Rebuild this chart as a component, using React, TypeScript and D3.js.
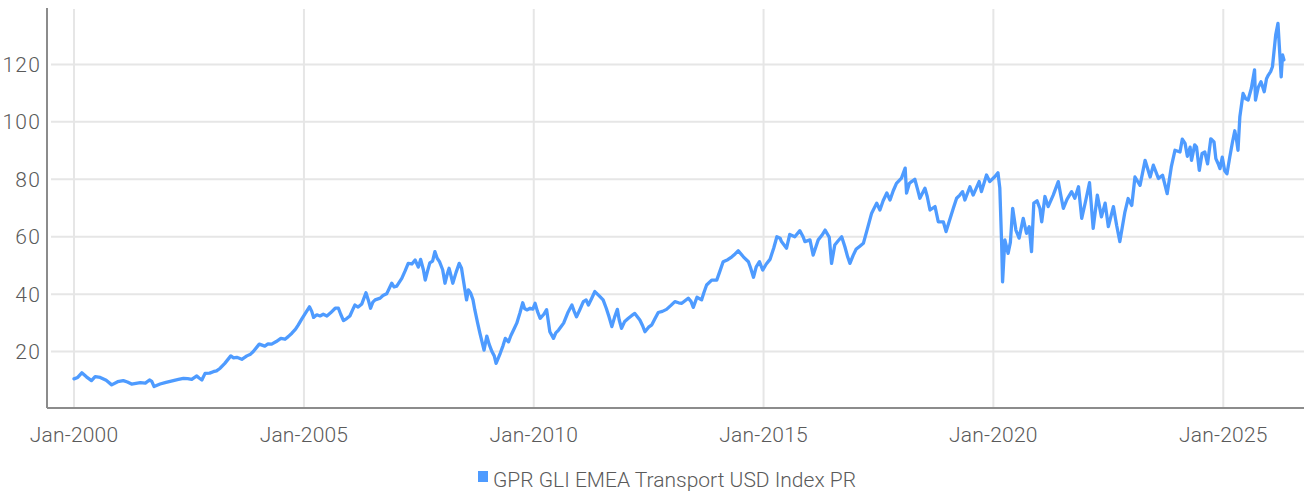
import React from "react";
import * as d3 from "d3";

// decimal year -> index level
const years = [
  2000.0, 2000.08, 2000.17, 2000.27, 2000.38, 2000.46, 2000.57, 2000.7, 2000.82, 2000.95,
  2001.07, 2001.16, 2001.25, 2001.44, 2001.55, 2001.64, 2001.69, 2001.74, 2001.87, 2002.0,
  2002.16, 2002.27, 2002.38, 2002.47, 2002.56, 2002.67, 2002.72, 2002.78, 2002.85, 2002.95,
  2003.03, 2003.1, 2003.18, 2003.28, 2003.41, 2003.47, 2003.54, 2003.65, 2003.76, 2003.84,
  2003.9, 2004.03, 2004.15, 2004.22, 2004.3, 2004.4, 2004.5, 2004.59, 2004.66, 2004.74,
  2004.82, 2004.88, 2004.96, 2005.03, 2005.12, 2005.17, 2005.21, 2005.28, 2005.35, 2005.42,
  2005.5, 2005.58, 2005.68, 2005.75, 2005.8, 2005.86, 2005.93, 2006.0, 2006.06, 2006.11,
  2006.18, 2006.26, 2006.35, 2006.4, 2006.45, 2006.5, 2006.55, 2006.66, 2006.72, 2006.8,
  2006.91, 2006.96, 2007.02, 2007.13, 2007.2, 2007.27, 2007.35, 2007.42, 2007.49, 2007.54,
  2007.6, 2007.64, 2007.69, 2007.74, 2007.8, 2007.85, 2007.9, 2007.95, 2008.02, 2008.07,
  2008.12, 2008.16, 2008.2, 2008.24, 2008.31, 2008.38, 2008.43, 2008.47, 2008.54, 2008.58,
  2008.63, 2008.68, 2008.72, 2008.78, 2008.83, 2008.92, 2008.98, 2009.03, 2009.09, 2009.14,
  2009.18, 2009.23, 2009.27, 2009.33, 2009.38, 2009.45, 2009.5, 2009.56, 2009.63, 2009.7,
  2009.76, 2009.8, 2009.85, 2009.92, 2009.98, 2010.03, 2010.08, 2010.14, 2010.22, 2010.28,
  2010.35, 2010.43, 2010.48, 2010.54, 2010.6, 2010.65, 2010.74, 2010.83, 2010.88, 2010.93,
  2011.0, 2011.08, 2011.14, 2011.19, 2011.26, 2011.33, 2011.42, 2011.51, 2011.58, 2011.64,
  2011.7, 2011.76, 2011.82, 2011.86, 2011.91, 2011.98, 2012.06, 2012.13, 2012.2, 2012.31,
  2012.37, 2012.42, 2012.5, 2012.57, 2012.64, 2012.71, 2012.8, 2012.89, 2012.98, 2013.07,
  2013.15, 2013.22, 2013.36, 2013.42, 2013.47, 2013.55, 2013.65, 2013.7, 2013.76, 2013.87,
  2013.98, 2014.05, 2014.12, 2014.22, 2014.31, 2014.38, 2014.45, 2014.56, 2014.67, 2014.72,
  2014.78, 2014.84, 2014.91, 2014.98, 2015.06, 2015.14, 2015.22, 2015.29, 2015.36, 2015.39,
  2015.5, 2015.57, 2015.68, 2015.79, 2015.86, 2015.9, 2016.01, 2016.08, 2016.14, 2016.19,
  2016.27, 2016.34, 2016.43, 2016.48, 2016.55, 2016.62, 2016.7, 2016.77, 2016.83, 2016.88,
  2016.95, 2017.01, 2017.1, 2017.17, 2017.26, 2017.35, 2017.46, 2017.53, 2017.6, 2017.68,
  2017.75, 2017.82, 2017.89, 2018.0, 2018.08, 2018.11, 2018.17, 2018.22, 2018.29, 2018.35,
  2018.4, 2018.51, 2018.56, 2018.62, 2018.73, 2018.8, 2018.91, 2018.97, 2019.06, 2019.13,
  2019.2, 2019.27, 2019.33, 2019.38, 2019.49, 2019.56, 2019.63, 2019.69, 2019.74, 2019.85,
  2019.92, 2020.03, 2020.1, 2020.14, 2020.18, 2020.2, 2020.25, 2020.32, 2020.37, 2020.42,
  2020.49, 2020.56, 2020.65, 2020.72, 2020.78, 2020.83, 2020.88, 2020.95, 2021.01, 2021.05,
  2021.12, 2021.19, 2021.3, 2021.41, 2021.47, 2021.52, 2021.6, 2021.7, 2021.77, 2021.85,
  2021.92, 2022.0, 2022.09, 2022.17, 2022.26, 2022.35, 2022.43, 2022.5, 2022.61, 2022.68,
  2022.75, 2022.86, 2022.93, 2023.01, 2023.08, 2023.19, 2023.3, 2023.41, 2023.48, 2023.59,
  2023.68, 2023.78, 2023.87, 2023.95, 2024.06, 2024.11, 2024.17, 2024.22, 2024.28, 2024.31,
  2024.38, 2024.42, 2024.48, 2024.54, 2024.6, 2024.66, 2024.73, 2024.8, 2024.84, 2024.89,
  2024.93, 2024.98, 2025.03, 2025.08, 2025.14, 2025.2, 2025.25, 2025.29, 2025.32, 2025.36,
  2025.43, 2025.49, 2025.54, 2025.61, 2025.68, 2025.7, 2025.76, 2025.82, 2025.89, 2025.94,
  2025.98, 2026.03, 2026.07, 2026.14, 2026.19, 2026.22, 2026.26, 2026.29, 2026.32,
];

const levels = [
  10.5, 11.0, 12.6, 11.2, 9.9, 11.3, 11.0, 10.0, 8.4, 9.5,
  9.9, 9.4, 8.7, 9.2, 9.0, 10.1, 9.6, 7.8, 8.7, 9.3,
  9.9, 10.3, 10.7, 10.6, 10.3, 11.5, 10.8, 10.1, 12.4, 12.5,
  13.0, 13.3, 14.2, 15.9, 18.5, 17.8, 18.0, 17.3, 18.5, 19.1,
  20.0, 22.6, 21.9, 22.7, 22.6, 23.5, 24.6, 24.3, 25.2, 26.4,
  27.8, 29.3, 31.5, 33.3, 35.6, 34.0, 31.9, 32.8, 32.4, 33.0,
  32.4, 33.5, 35.1, 35.1, 33.0, 30.8, 31.5, 32.4, 34.5, 36.2,
  35.5, 36.6, 40.5, 38.0, 35.1, 37.2, 38.0, 38.6, 39.5, 40.1,
  43.8, 42.5, 42.8, 45.5, 48.0, 50.7, 50.5, 51.9, 49.4, 52.1,
  48.5, 44.9, 48.0, 50.9, 51.5, 54.8, 52.5, 51.3, 48.5, 43.8,
  47.0, 49.0, 46.5, 43.8, 47.5, 50.7, 49.0, 44.9, 38.0, 41.5,
  40.3, 38.0, 34.5, 30.0, 26.4, 20.5, 25.4, 22.5, 20.0, 18.5,
  15.9, 17.8, 19.4, 22.0, 24.6, 23.4, 25.5, 27.5, 29.9, 33.5,
  37.0, 35.0, 34.5, 35.1, 34.8, 36.8, 34.0, 31.6, 33.0, 34.6,
  26.9, 24.6, 26.5, 27.5, 28.8, 29.9, 33.5, 36.2, 34.0, 32.1,
  34.5, 37.4, 38.0, 36.2, 38.5, 40.9, 39.5, 38.0, 35.0, 32.0,
  28.7, 32.0, 34.7, 31.0, 28.1, 30.5, 31.6, 32.5, 33.3, 31.0,
  29.0, 26.9, 28.5, 29.3, 31.5, 33.6, 34.0, 34.7, 36.0, 37.4,
  37.0, 36.8, 38.6, 37.5, 35.4, 38.9, 38.0, 40.5, 43.2, 44.9,
  44.9, 48.0, 51.3, 52.0, 53.0, 54.0, 55.1, 53.0, 51.3, 49.0,
  45.9, 49.5, 51.3, 48.4, 50.5, 52.1, 56.0, 60.0, 59.5, 58.3,
  56.0, 60.8, 60.0, 62.1, 60.0, 58.3, 58.9, 53.6, 56.5, 58.9,
  60.5, 62.3, 59.8, 50.7, 57.1, 58.5, 60.0, 56.5, 53.0, 50.7,
  53.5, 55.6, 56.8, 57.7, 62.9, 68.2, 71.7, 69.3, 72.5, 75.2,
  72.8, 76.0, 78.6, 80.4, 83.9, 75.2, 78.5, 79.2, 80.0, 76.5,
  73.4, 76.9, 74.0, 69.3, 70.5, 65.2, 65.2, 61.8, 66.4, 70.0,
  73.4, 74.5, 75.7, 72.8, 77.4, 74.5, 77.0, 79.2, 75.7, 81.5,
  79.2, 80.9, 82.3, 77.0, 57.7, 44.3, 58.9, 54.2, 58.0, 69.9,
  62.3, 59.5, 66.4, 61.2, 63.5, 54.8, 71.7, 72.5, 69.9, 65.2,
  74.0, 70.5, 74.5, 79.2, 74.0, 69.9, 73.0, 75.7, 73.4, 77.4,
  66.4, 72.0, 78.8, 62.9, 74.5, 66.9, 71.7, 63.5, 70.5, 64.0,
  58.3, 68.6, 73.3, 70.9, 80.8, 77.9, 86.6, 80.8, 84.9, 80.3,
  81.4, 75.0, 84.3, 90.1, 89.5, 94.0, 92.5, 88.0, 91.2, 86.6,
  92.0, 91.2, 83.1, 89.0, 89.5, 85.4, 94.1, 93.0, 87.2, 85.4,
  83.7, 87.7, 83.0, 81.9, 87.7, 93.0, 96.9, 93.5, 90.1, 101.8,
  109.9, 108.0, 107.6, 111.7, 118.1, 107.6, 112.0, 114.0, 110.5, 115.0,
  116.3, 117.5, 119.2, 130.2, 134.3, 126.2, 115.7, 123.3, 121.6,
];

const yTicks = [20, 40, 60, 80, 100, 120];
const xTickYears = [2000, 2005, 2010, 2015, 2020, 2025];
const seriesName = "GPR GLI EMEA Transport USD Index PR";

const W = 1304;
const H = 493;
const FONT = "Roboto, 'Liberation Sans', sans-serif";
const LINE = "#4e9bff";
const GRID = "#e6e6e6";
const AXIS = "#8c8c8c";
const TEXT = "#5a5a5a";

const toDate = (t: number) => {
  const y = Math.floor(t);
  return new Date(new Date(y, 0, 1).getTime() + (t - y) * 365.25 * 86400000);
};

export default function App() {
  const left = 47;
  const bottom = 407;
  const top = 8;

  const x = d3
    .scaleTime()
    .domain([new Date(2000, 0, 1), new Date(2025, 0, 1)])
    .range([74, 1223.3]);
  const y = d3.scaleLinear().domain([0, 140]).range([409, 7]);

  const data = years.map((t, i) => ({ date: toDate(t), v: levels[i] }));
  const line = d3
    .line<{ date: Date; v: number }>()
    .x((d) => x(d.date))
    .y((d) => y(d.v));

  const fmt = d3.timeFormat("%b-%Y");

  return (
    <svg
      width={W}
      height={H}
      style={{ position: "absolute", left: 0, top: 0, background: "#fff" }}
      fontFamily={FONT}
      fontWeight={300}
    >
      {/* grid */}
      {yTicks.map((t) => (
        <line key={"h" + t} x1={51} x2={W} y1={y(t)} y2={y(t)} stroke={GRID} strokeWidth={2} />
      ))}
      {xTickYears.map((yr) => (
        <line
          key={"v" + yr}
          x1={x(new Date(yr, 0, 1))}
          x2={x(new Date(yr, 0, 1))}
          y1={top + 1}
          y2={bottom}
          stroke={GRID}
          strokeWidth={2}
        />
      ))}

      {/* series */}
      <path
        d={line(data) || ""}
        fill="none"
        stroke={LINE}
        strokeWidth={3.3}
        strokeLinejoin="round"
        strokeLinecap="round"
      />

      {/* axes */}
      <line x1={left} x2={left} y1={top} y2={bottom + 1} stroke={AXIS} strokeWidth={2} />
      <line x1={left} x2={W} y1={bottom + 1} y2={bottom + 1} stroke={AXIS} strokeWidth={2} />

      {yTicks.map((t) => (
        <text
          key={"yl" + t}
          x={41}
          y={y(t)}
          dy="0.36em"
          textAnchor="end"
          fontSize={21}
          letterSpacing={1.2}
          fill={TEXT}
        >
          {t}
        </text>
      ))}
      {xTickYears.map((yr) => (
        <text
          key={"xl" + yr}
          x={x(new Date(yr, 0, 1))}
          y={442}
          textAnchor="middle"
          fontSize={21}
          letterSpacing={0.2}
          fill={TEXT}
        >
          {fmt(new Date(yr, 0, 1))}
        </text>
      ))}

      {/* legend */}
      <rect x={478} y={471} width={10} height={11} fill={LINE} />
      <text x={493} y={487} fontSize={21} fill={TEXT}>
        {seriesName}
      </text>
    </svg>
  );
}
